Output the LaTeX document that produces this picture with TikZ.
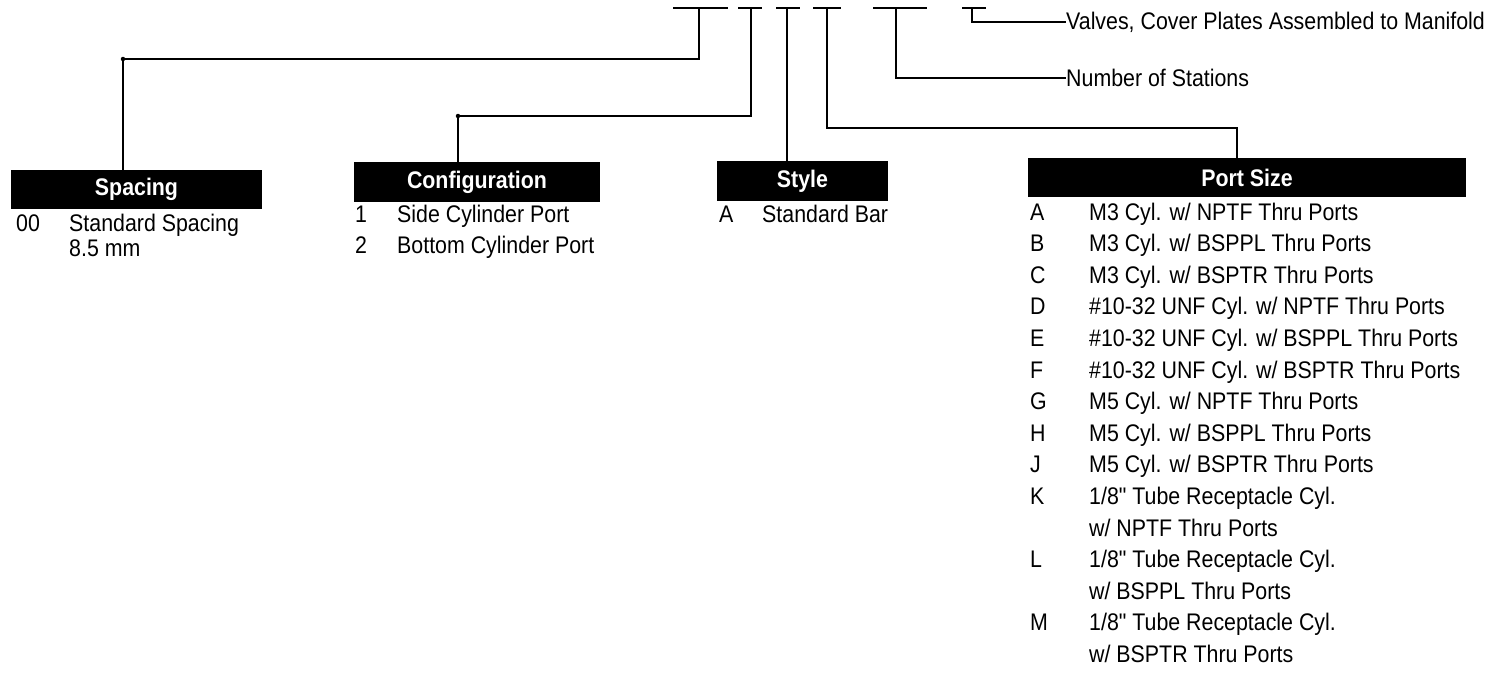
\documentclass[tikz,border=0pt]{standalone}
\usepackage{fontspec}
\setmainfont{Liberation Sans}[FakeStretch=0.89]
\newfontfamily\plainqf{Liberation Sans}[FakeStretch=0.89,Ligatures=ResetAll]
\newcommand{\dq}{{\plainqf\symbol{34}}}
\begin{document}
\begin{tikzpicture}[x=1pt,y=-1pt,
  bar/.style={line width=2.6pt},
  conn/.style={line width=2pt,line join=miter},
  hdr/.style={fill=black,text=white,inner sep=0pt,font=\bfseries\fontsize{24}{28}\selectfont},
  txt/.style={anchor=base west,inner sep=0pt,font=\fontsize{24}{28}\selectfont},
  jdot/.style={circle,fill=black,inner sep=0pt,minimum size=4.5pt}]
\useasboundingbox (0,0) rectangle (1505,673);
% blanks
\draw[bar] (673,8) -- (728,8);
\draw[bar] (738,8) -- (762,8);
\draw[bar] (776,8) -- (800,8);
\draw[bar] (813,8) -- (841,8);
\draw[bar] (873,8) -- (927,8);
\draw[bar] (962,8) -- (986,8);
\coordinate (b1) at (699,8);
\coordinate (b2) at (751,8);
\coordinate (b3) at (787,8);
\coordinate (b4) at (827,8);
\coordinate (b5) at (896,8);
\coordinate (b6) at (972,8);
\coordinate (c1) at (123,59);
\coordinate (c2) at (458,116);
\coordinate (c4) at (1237,128);
% headers
\node[hdr,minimum width=251pt,minimum height=39pt] (sp) at (136.5,189.5) {Spacing};
\node[hdr,minimum width=246pt,minimum height=40pt] (cf) at (477,182) {Configuration};
\node[hdr,minimum width=171pt,minimum height=40pt] (st) at (802.5,181) {Style};
\node[hdr,minimum width=438pt,minimum height=39pt] (ps) at (1247,177.5) {Port Size};
% right labels
\node[txt,anchor=west] (valves) at (1066,22) {Valves, Cover Plates Assembled to Manifold};
\node[txt,anchor=west] (stations) at (1066,78) {Number of Stations};
% connectors
\draw[conn] (b1) |- (c1) -- (c1 |- sp.north);
\draw[conn] (b2) |- (c2) -- (c2 |- cf.north);
\draw[conn] (b3) -- (b3 |- st.north);
\draw[conn] (b4) |- (c4) -- (c4 |- ps.north);
\draw[conn] (b5) |- (stations.west);
\draw[conn] (b6) |- (valves.west);
\node[jdot] at (c1) {};
\node[jdot] at (c2) {};
% spacing rows
\node[txt] at (16,231) {00};
\node[txt] at (69,231) {Standard Spacing};
\node[txt] at (69,256) {8.5 mm};
% configuration rows
\node[txt] at (355,222) {1};
\node[txt] at (397,222) {Side Cylinder Port};
\node[txt] at (355,253) {2};
\node[txt] at (397,253) {Bottom Cylinder Port};
% style rows
\node[txt] at (719,222) {A};
\node[txt] at (762,222) {Standard Bar};
% port size rows
\foreach \c/\t [count=\i from 0] in {
  A/{M3 Cyl. w/ NPTF Thru Ports},
  B/{M3 Cyl. w/ BSPPL Thru Ports},
  C/{M3 Cyl. w/ BSPTR Thru Ports},
  D/{\#10-32 UNF Cyl. w/ NPTF Thru Ports},
  E/{\#10-32 UNF Cyl. w/ BSPPL Thru Ports},
  F/{\#10-32 UNF Cyl. w/ BSPTR Thru Ports},
  G/{M5 Cyl. w/ NPTF Thru Ports},
  H/{M5 Cyl. w/ BSPPL Thru Ports},
  J/{M5 Cyl. w/ BSPTR Thru Ports},
  K/{1/8\dq{} Tube Receptacle Cyl.},
  {}/{w/ NPTF Thru Ports},
  L/{1/8\dq{} Tube Receptacle Cyl.},
  {}/{w/ BSPPL Thru Ports},
  M/{1/8\dq{} Tube Receptacle Cyl.},
  {}/{w/ BSPTR Thru Ports}} {
  \node[txt] (pc\i) at (1030,220+31.6*\i) {\c};
  \node[txt] (pt\i) at (1089,220+31.6*\i) {\t};
}
\end{tikzpicture}
\end{document}
